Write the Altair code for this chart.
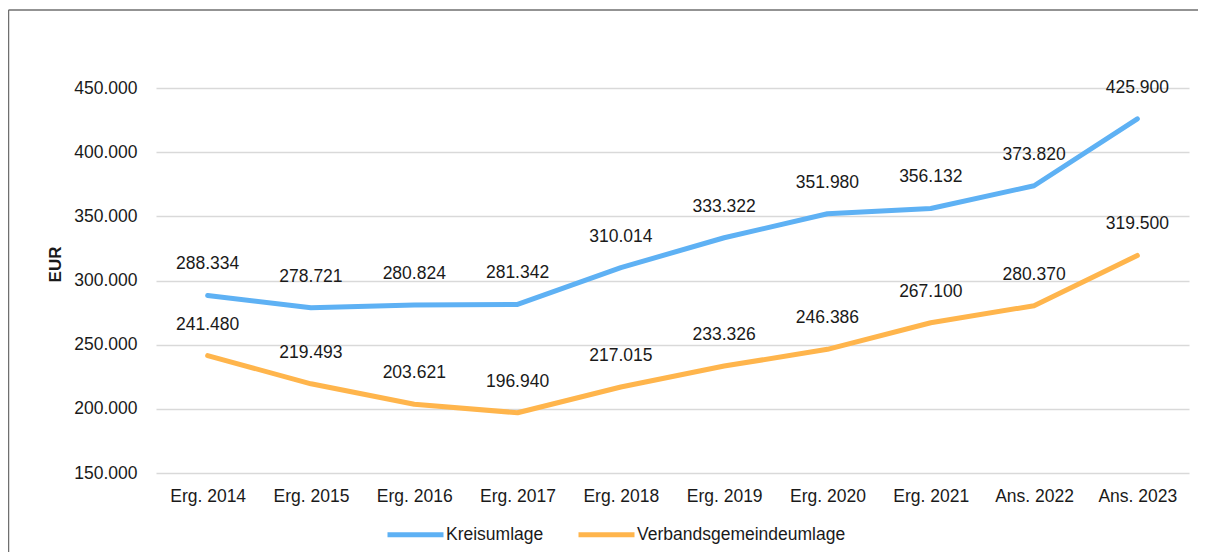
import altair as alt
import pandas as pd

categories = ["Erg. 2014", "Erg. 2015", "Erg. 2016", "Erg. 2017", "Erg. 2018",
              "Erg. 2019", "Erg. 2020", "Erg. 2021", "Ans. 2022", "Ans. 2023"]
kreisumlage = [288334, 278721, 280824, 281342, 310014, 333322, 351980, 356132, 373820, 425900]
verbandsgemeindeumlage = [241480, 219493, 203621, 196940, 217015, 233326, 246386, 267100, 280370, 319500]
series_names = ["Kreisumlage", "Verbandsgemeindeumlage"]
series_colors = ["#5EB1F4", "#FFB54C"]
y_ticks = [150000, 200000, 250000, 300000, 350000, 400000, 450000]

rows = []
for name, vals in zip(series_names, [kreisumlage, verbandsgemeindeumlage]):
    for c, v in zip(categories, vals):
        rows.append({"Kategorie": c, "Reihe": name, "Wert": v})
df = pd.DataFrame(rows)

FONT = "Liberation Sans"
TXT = "#1a1a1a"
FS = 17.5

x_enc = alt.X("Kategorie:N", sort=categories,
              scale=alt.Scale(type="point", padding=0.5),
              axis=alt.Axis(title=None, labelAngle=0, ticks=False, domain=False, grid=False,
                            labelFont=FONT, labelFontSize=FS, labelColor=TXT, labelPadding=14))
y_enc = alt.Y("Wert:Q", scale=alt.Scale(domain=[150000, 450000], nice=False, zero=False),
              axis=alt.Axis(title="EUR", values=y_ticks, ticks=False, domain=False,
                            grid=True, gridColor="#D9D9D9", gridWidth=1.6,
                            labelExpr="replace(format(datum.value, ',.0f'), ',', '.')",
                            labelFont=FONT, labelFontSize=FS, labelColor=TXT, labelPadding=19,
                            titleFont=FONT, titleFontSize=17, titleFontWeight="bold", titleColor=TXT,
                            titleAngle=-90, titleX=-101, titleY=176, titleAlign="center",
                            titleBaseline="middle"))
color_enc = alt.Color("Reihe:N", sort=series_names,
                      scale=alt.Scale(domain=series_names, range=series_colors),
                      legend=alt.Legend(title=None, orient="none", direction="horizontal",
                                        legendX=229, legendY=416, padding=0,
                                        symbolType="stroke", symbolSize=3136, symbolStrokeWidth=5,
                                        labelFont=FONT, labelFontSize=FS, labelColor=TXT,
                                        labelLimit=400, labelOffset=0, columnPadding=24))

base = alt.Chart(df)

lines = base.mark_line(strokeWidth=5, strokeCap="round", strokeJoin="round").encode(
    x=x_enc, y=y_enc, color=color_enc)

labels = base.transform_calculate(
    lab="replace(format(datum.Wert, ',.0f'), ',', '.')"
).mark_text(font=FONT, fontSize=FS, color=TXT, dy=-31, baseline="middle", align="center").encode(
    x=alt.X("Kategorie:N", sort=categories), y="Wert:Q", text="lab:N")

border_left = alt.Chart(pd.DataFrame({"a": [0]})).mark_rule(color="#6F6F6F", strokeWidth=1.5).encode(
    x=alt.value(-147.5), y=alt.value(-78), y2=alt.value(470))
border_top = alt.Chart(pd.DataFrame({"a": [0]})).mark_rule(color="#6F6F6F", strokeWidth=1.5).encode(
    x=alt.value(-147.5), x2=alt.value(1100), y=alt.value(-78))

chart = alt.layer(lines, labels, border_left, border_top).properties(
    width=1033, height=385,
    padding={"left": 148, "top": 80, "right": 9, "bottom": 79},
    autosize=alt.AutoSizeParams(type="none"),
    background="white",
).configure_view(stroke=None)

chart.save("out.html", embed_options={"renderer": "svg", "actions": False})
